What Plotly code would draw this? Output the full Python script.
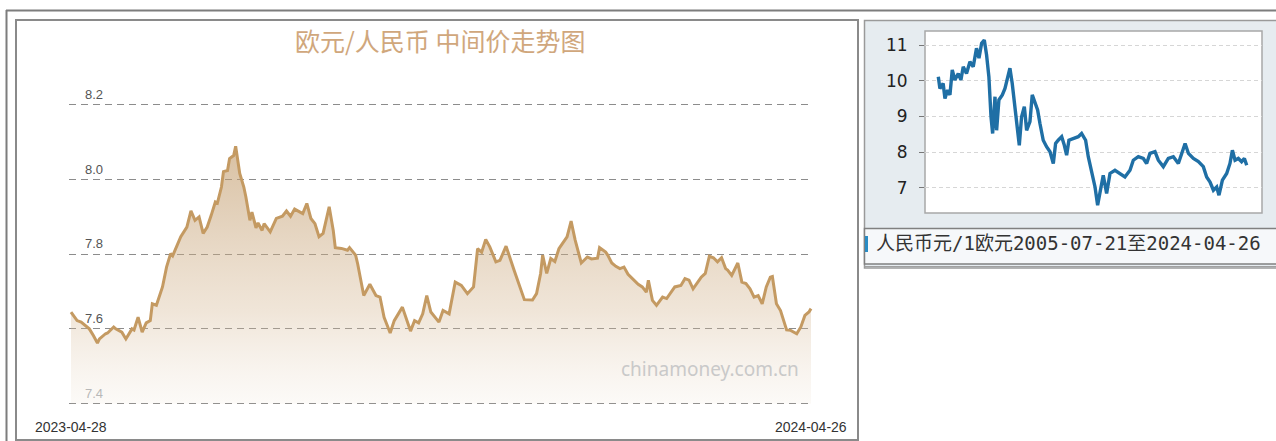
import pandas as pd
import plotly.graph_objects as go

# EUR/CNY central parity, one-year window
mid_dates = [
    "2023-04-28", "2023-05-01", "2023-05-03", "2023-05-07", "2023-05-09", "2023-05-11", "2023-05-12",
    "2023-05-15", "2023-05-16", "2023-05-19", "2023-05-20", "2023-05-23", "2023-05-25", "2023-05-28",
    "2023-05-29", "2023-05-31", "2023-06-02", "2023-06-04", "2023-06-06", "2023-06-07", "2023-06-09",
    "2023-06-12", "2023-06-14", "2023-06-16", "2023-06-17", "2023-06-19", "2023-06-21", "2023-06-24",
    "2023-06-26", "2023-06-28", "2023-06-30", "2023-07-02", "2023-07-04", "2023-07-06", "2023-07-08",
    "2023-07-09", "2023-07-11", "2023-07-12", "2023-07-14", "2023-07-15", "2023-07-17", "2023-07-18",
    "2023-07-20", "2023-07-22", "2023-07-23", "2023-07-25", "2023-07-26", "2023-07-28", "2023-07-29",
    "2023-07-31", "2023-08-01", "2023-08-04", "2023-08-07", "2023-08-10", "2023-08-12", "2023-08-14",
    "2023-08-16", "2023-08-20", "2023-08-22", "2023-08-24", "2023-08-26", "2023-08-28", "2023-08-30",
    "2023-09-02", "2023-09-04", "2023-09-05", "2023-09-08", "2023-09-11", "2023-09-12", "2023-09-15",
    "2023-09-16", "2023-09-19", "2023-09-22", "2023-09-25", "2023-09-27", "2023-09-29", "2023-10-02",
    "2023-10-04", "2023-10-08", "2023-10-12", "2023-10-14", "2023-10-16", "2023-10-18", "2023-10-20",
    "2023-10-22", "2023-10-26", "2023-10-28", "2023-10-31", "2023-11-03", "2023-11-06", "2023-11-09",
    "2023-11-12", "2023-11-14", "2023-11-16", "2023-11-18", "2023-11-20", "2023-11-23", "2023-11-25",
    "2023-11-28", "2023-12-02", "2023-12-07", "2023-12-11", "2023-12-13", "2023-12-15", "2023-12-16",
    "2023-12-18", "2023-12-20", "2023-12-22", "2023-12-24", "2023-12-28", "2023-12-30", "2024-01-01",
    "2024-01-04", "2024-01-07", "2024-01-09", "2024-01-12", "2024-01-13", "2024-01-16", "2024-01-17",
    "2024-01-19", "2024-01-21", "2024-01-23", "2024-01-25", "2024-01-27", "2024-01-30", "2024-02-01",
    "2024-02-03", "2024-02-05", "2024-02-06", "2024-02-08", "2024-02-10", "2024-02-13", "2024-02-15",
    "2024-02-17", "2024-02-19", "2024-02-22", "2024-02-24", "2024-02-26", "2024-02-28", "2024-03-02",
    "2024-03-03", "2024-03-05", "2024-03-07", "2024-03-09", "2024-03-11", "2024-03-13", "2024-03-15",
    "2024-03-16", "2024-03-18", "2024-03-21", "2024-03-23", "2024-03-25", "2024-03-27", "2024-03-29",
    "2024-03-31", "2024-04-02", "2024-04-04", "2024-04-06", "2024-04-07", "2024-04-09", "2024-04-11",
    "2024-04-14", "2024-04-16", "2024-04-19", "2024-04-21", "2024-04-23", "2024-04-25", "2024-04-26",
]
mid_rates = [
    7.645, 7.622, 7.618, 7.600, 7.582, 7.562, 7.573,
    7.587, 7.589, 7.605, 7.600, 7.591, 7.573, 7.600,
    7.597, 7.631, 7.591, 7.616, 7.622, 7.667, 7.663,
    7.712, 7.765, 7.801, 7.795, 7.819, 7.846, 7.872,
    7.915, 7.890, 7.899, 7.855, 7.872, 7.904, 7.939,
    7.936, 7.979, 8.020, 8.023, 8.055, 8.063, 8.088,
    8.015, 7.979, 7.953, 7.890, 7.912, 7.870, 7.883,
    7.863, 7.881, 7.859, 7.895, 7.901, 7.915, 7.901,
    7.920, 7.908, 7.935, 7.895, 7.881, 7.846, 7.855,
    7.926, 7.863, 7.817, 7.815, 7.810, 7.817, 7.797,
    7.774, 7.689, 7.719, 7.689, 7.685, 7.631, 7.589,
    7.622, 7.658, 7.594, 7.622, 7.616, 7.640, 7.689,
    7.645, 7.618, 7.649, 7.640, 7.725, 7.716, 7.694,
    7.712, 7.814, 7.805, 7.839, 7.819, 7.779, 7.783,
    7.821, 7.756, 7.678, 7.677, 7.694, 7.748, 7.797,
    7.748, 7.788, 7.780, 7.814, 7.846, 7.888, 7.837,
    7.776, 7.792, 7.787, 7.789, 7.817, 7.805, 7.797,
    7.776, 7.767, 7.761, 7.765, 7.746, 7.730, 7.719,
    7.712, 7.698, 7.730, 7.676, 7.663, 7.685, 7.681,
    7.698, 7.712, 7.716, 7.734, 7.730, 7.707, 7.730,
    7.738, 7.748, 7.794, 7.790, 7.779, 7.790, 7.761,
    7.757, 7.743, 7.776, 7.725, 7.721, 7.707, 7.685,
    7.689, 7.667, 7.712, 7.738, 7.740, 7.667, 7.649,
    7.597, 7.596, 7.587, 7.605, 7.636, 7.645, 7.654,
]
mid_levels = [7.4, 7.6, 7.8, 8.0, 8.2]

# RMB per 1 EUR since the 2005 reform
hist_dates = [
    "2005-07-21", "2005-08-26", "2005-11-06", "2005-12-16", "2006-02-14", "2006-04-06", "2006-05-27",
    "2006-07-24", "2006-10-08", "2006-12-06", "2007-01-26", "2007-04-09", "2007-06-24", "2007-09-05",
    "2007-11-17", "2008-01-11", "2008-03-10", "2008-05-08", "2008-06-28", "2008-08-18", "2008-10-04",
    "2008-11-10", "2009-01-01", "2009-02-06", "2009-03-29", "2009-06-13", "2009-08-11", "2009-10-09",
    "2009-11-29", "2010-01-19", "2010-03-07", "2010-05-19", "2010-06-25", "2010-08-15", "2010-10-15",
    "2010-12-05", "2011-02-17", "2011-04-09", "2011-06-07", "2011-08-06", "2011-09-27", "2011-12-09",
    "2012-02-21", "2012-05-08", "2012-07-20", "2012-09-09", "2012-11-06", "2013-01-22", "2013-03-22",
    "2013-05-12", "2013-07-02", "2013-10-08", "2014-01-26", "2014-04-10", "2014-07-08", "2014-09-05",
    "2014-11-18", "2015-02-02", "2015-04-01", "2015-05-22", "2015-08-04", "2015-10-18", "2016-01-01",
    "2016-04-20", "2016-08-10", "2016-11-28", "2017-03-20", "2017-06-02", "2017-09-21", "2018-01-10",
    "2018-03-25", "2018-06-07", "2018-09-27", "2018-12-10", "2019-03-31", "2019-07-20", "2019-11-09",
    "2020-02-28", "2020-05-13", "2020-07-27", "2020-10-09", "2021-01-27", "2021-05-19", "2021-09-05",
    "2021-11-18", "2022-02-01", "2022-04-17", "2022-06-29", "2022-08-19", "2022-11-03", "2023-02-06",
    "2023-04-20", "2023-06-13", "2023-08-11", "2023-10-23", "2024-01-04", "2024-03-06", "2024-04-26",
]
hist_rates = [
    10.11, 9.78, 9.92, 9.50, 9.74, 9.60, 10.30,
    10.02, 10.20, 10.02, 10.39, 10.20, 10.53, 10.39,
    10.91, 10.63, 11.05, 11.14, 10.72, 10.11, 8.99,
    8.52, 9.55, 8.61, 9.46, 9.60, 9.78, 10.11,
    10.35, 9.92, 9.36, 8.43, 8.19, 8.99, 9.27,
    8.61, 8.85, 9.60, 9.36, 9.18, 8.80, 8.33,
    8.15, 8.01, 7.68, 8.24, 8.33, 8.43, 8.19,
    7.91, 8.33, 8.38, 8.43, 8.52, 8.33, 7.87,
    7.49, 7.02, 6.51, 6.84, 7.35, 6.84, 7.40,
    7.49, 7.40, 7.30, 7.49, 7.77, 7.87, 7.82,
    7.68, 7.96, 8.01, 7.77, 7.59, 7.82, 7.87,
    7.68, 7.96, 8.24, 7.96, 7.82, 7.73, 7.59,
    7.30, 7.16, 6.93, 7.02, 6.79, 7.21, 7.40,
    7.68, 8.05, 7.77, 7.82, 7.73, 7.82, 7.63,
]
hist_ticks = [7, 8, 9, 10, 11]

W, H = 1276, 441


def px(x):
    return x / W


def py(y):
    return (H - y) / H


SANS = "Liberation Sans, Arial, sans-serif"
CJK = "Noto Sans CJK SC, Microsoft YaHei, sans-serif"

mid_x = pd.to_datetime(mid_dates)
hist_x = pd.to_datetime(hist_dates)

# main chart geometry (pixels)
mx0, mx1 = 71, 811
y_lo_px, y_hi_px = 403.7, 104.3
ppu = (y_lo_px - y_hi_px) / (mid_levels[-1] - mid_levels[0])
ypad = 0.04
ppd = (mx1 - mx0) / (mid_x[-1] - mid_x[0]).days
xpad_days = 1

# small chart geometry (pixels)
sx0, sx1, sy0, sy1 = 925, 1262, 31, 213
h_first_px, h_last_px = 938.3, 1246.7
h_ppd = (h_last_px - h_first_px) / (hist_x[-1] - hist_x[0]).days
h_ppu = (187.7 - 45.0) / (hist_ticks[-1] - hist_ticks[0])
h_top = hist_ticks[-1] + (45.0 - sy0) / h_ppu
h_bot = hist_ticks[0] - (sy1 - 187.7) / h_ppu

fig = go.Figure()

# floor of the shaded area
fig.add_trace(go.Scatter(
    x=mid_x, y=[mid_levels[0]] * len(mid_x), mode="lines",
    line=dict(width=0, color="rgba(0,0,0,0)"), hoverinfo="skip", showlegend=False,
    xaxis="x", yaxis="y",
))
fig.add_trace(go.Scatter(
    x=mid_x, y=mid_rates, mode="lines",
    line=dict(color="#c49a62", width=3),
    fill="tonexty",
    fillgradient=dict(
        type="vertical",
        start=mid_levels[0], stop=8.1,
        colorscale=[
            [0.0, "rgba(225,205,180,0.10)"],
            [0.35, "rgba(212,182,145,0.35)"],
            [0.7, "rgba(200,165,122,0.50)"],
            [1.0, "rgba(192,152,102,0.62)"],
        ],
    ),
    showlegend=False, xaxis="x", yaxis="y",
))

fig.add_trace(go.Scatter(
    x=hist_x, y=hist_rates, mode="lines",
    line=dict(color="#1f6fa5", width=3.4),
    showlegend=False, xaxis="x2", yaxis="y2",
))

shapes = [
    # outer frame
    dict(type="line", xref="paper", yref="paper", x0=px(6), x1=px(W + 5), y0=py(10.5), y1=py(10.5),
         line=dict(color="#7d7d7d", width=2), layer="below"),
    dict(type="line", xref="paper", yref="paper", x0=px(6.5), x1=px(6.5), y0=py(10), y1=py(H + 5),
         line=dict(color="#7d7d7d", width=2), layer="below"),
    # main chart box
    dict(type="rect", xref="paper", yref="paper", x0=px(16), x1=px(858), y0=py(440), y1=py(20),
         line=dict(color="#8a8a8a", width=2), fillcolor="rgba(0,0,0,0)", layer="below"),
    # side panel
    dict(type="rect", xref="paper", yref="paper", x0=px(864.5), x1=px(W + 10), y0=py(268), y1=py(20.5),
         line=dict(color="#9a9a9a", width=1.5), fillcolor="#e6ecf0", layer="below"),
    dict(type="rect", xref="paper", yref="paper", x0=px(sx0), x1=px(sx1), y0=py(sy1), y1=py(sy0),
         line=dict(color="#a8a8a8", width=1.5), fillcolor="#ffffff", layer="below"),
    dict(type="rect", xref="paper", yref="paper", x0=px(864.5), x1=px(W + 10), y0=py(264), y1=py(228.5),
         line=dict(color="#808080", width=1.5), fillcolor="#f6f8fa", layer="below"),
    dict(type="line", xref="paper", yref="paper", x0=px(864.5), x1=px(W + 10), y0=py(266.5), y1=py(266.5),
         line=dict(color="#a0a0a0", width=1), layer="below"),
    # series marker in the caption band
    dict(type="rect", xref="paper", yref="paper", x0=px(865), x1=px(868), y0=py(252), y1=py(236),
         line=dict(width=0), fillcolor="#2a8cc4", layer="above"),
]

annotations = [
    dict(text="欧元/人民币 中间价走势图", xref="paper", yref="paper", x=px(440), y=py(40),
         xanchor="center", yanchor="middle", showarrow=False,
         font=dict(family=CJK, size=25, color="#d0a77c")),
    dict(text="chinamoney.com.cn", xref="paper", yref="paper", x=px(710), y=py(369),
         xanchor="center", yanchor="middle", showarrow=False,
         font=dict(family="Noto Sans, DejaVu Sans, sans-serif", size=19, color="#c9c9c9")),
    dict(text=f"人民币元/1欧元{hist_dates[0]}至{hist_dates[-1]}", xref="paper", yref="paper",
         x=px(874), y=py(243), xanchor="left", yanchor="middle", showarrow=False,
         font=dict(family="DejaVu Sans Mono, " + CJK, size=19, color="#333333")),
]
for v in mid_levels:
    annotations.append(dict(
        text=f"{v:.1f}", xref="paper", yref="y", x=px(83), y=v, yshift=10,
        xanchor="left", yanchor="middle", showarrow=False,
        font=dict(family=SANS, size=13, color="#b8b8b8" if v == mid_levels[0] else "#555555"),
    ))
for d in (mid_x[0], mid_x[-1]):
    annotations.append(dict(
        text=d.strftime("%Y-%m-%d"), xref="x", yref="paper", x=d, y=py(427),
        xanchor="center", yanchor="middle", showarrow=False,
        font=dict(family=SANS, size=14, color="#333333"),
    ))

fig.update_layout(
    width=W, height=H,
    margin=dict(l=0, r=0, t=0, b=0),
    paper_bgcolor="#ffffff", plot_bgcolor="rgba(0,0,0,0)",
    showlegend=False,
    xaxis=dict(
        domain=[px(mx0 - xpad_days * ppd), px(mx1 + xpad_days * ppd)],
        range=[mid_x[0] - pd.Timedelta(days=xpad_days), mid_x[-1] + pd.Timedelta(days=xpad_days)],
        showgrid=False, zeroline=False, showline=False, showticklabels=False, ticks="",
    ),
    yaxis=dict(
        domain=[py(y_lo_px + ypad * ppu), py(y_hi_px - ypad * ppu)],
        range=[mid_levels[0] - ypad, mid_levels[-1] + ypad],
        tickvals=mid_levels, showticklabels=False, ticks="",
        showgrid=True, gridcolor="#8c8c8c", gridwidth=1.3, griddash="7px,5px",
        zeroline=False, showline=False,
    ),
    xaxis2=dict(
        domain=[px(sx0), px(sx1)], anchor="y2",
        range=[hist_x[0] - pd.Timedelta(days=(h_first_px - sx0) / h_ppd),
               hist_x[-1] + pd.Timedelta(days=(sx1 - h_last_px) / h_ppd)],
        showgrid=False, zeroline=False, showline=False, showticklabels=False, ticks="",
    ),
    yaxis2=dict(
        domain=[py(sy1), py(sy0)], anchor="x2",
        range=[h_bot, h_top],
        tickvals=hist_ticks, ticks="outside", ticklen=5, tickcolor="#777777", tickwidth=1,
        ticklabelstandoff=8,
        tickfont=dict(family="DejaVu Sans, sans-serif", size=17, color="#222222"),
        showgrid=True, gridcolor="#d6d6d6", gridwidth=1, griddash="4px,3px",
        zeroline=False, showline=False,
    ),
    shapes=shapes,
    annotations=annotations,
)

fig.write_html("out.html")
